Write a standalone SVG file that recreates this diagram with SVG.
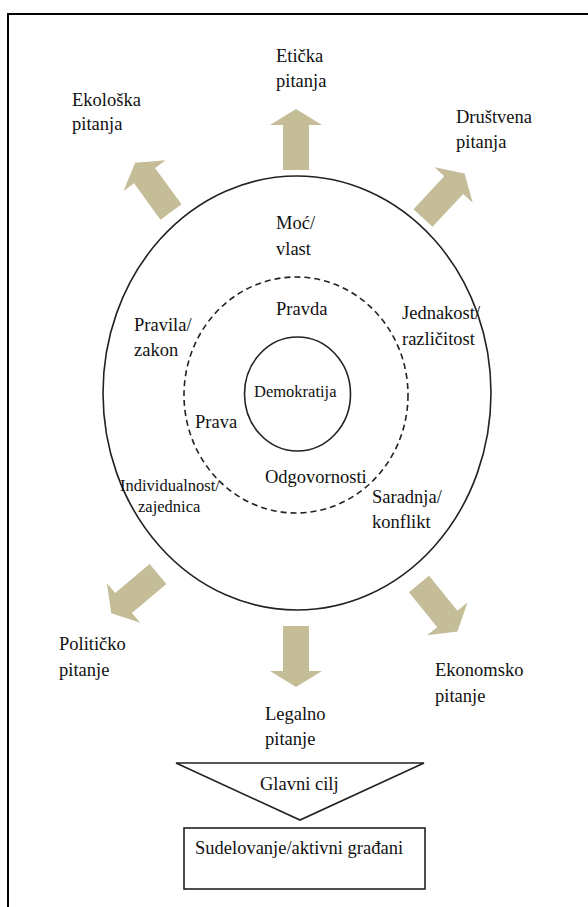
<svg xmlns="http://www.w3.org/2000/svg" width="588" height="907" viewBox="0 0 588 907">
<defs>
<style>
text{font-family:'Liberation Serif','Times New Roman','DejaVu Serif',serif;font-size:18.5px;fill:#111}
.sm{font-size:16.5px}
.arrow{fill:#C4BD97}
.line{fill:none;stroke:#222;stroke-width:1.6}
</style>
<path id="arr" d="M-13,0 L-13,-45 L-26,-45 L0,-61 L26,-45 L13,-45 L13,0 Z"/>
</defs>
<rect x="0" y="0" width="588" height="907" fill="#fff"/>
<rect id="frame" x="8" y="14" width="620" height="930" fill="none" stroke="#000" stroke-width="2"/>

<g id="connectors" class="arrow">
<use href="#arr" transform="translate(296,170)"/>
<use href="#arr" transform="translate(171,212) rotate(-36)"/>
<use href="#arr" transform="translate(423,218) rotate(43)"/>
<use href="#arr" transform="translate(158,574) rotate(-130)"/>
<use href="#arr" transform="translate(419,584) rotate(141)"/>
<use href="#arr" transform="translate(296,626) rotate(180)"/>
</g>

<g font-family="Liberation Serif, serif">
<g id="outer-circle">
<ellipse class="line" cx="297" cy="393" rx="194" ry="217"/>
<text x="276" y="229">Moć/</text>
<text x="276" y="255">vlast</text>
<text x="134" y="331">Pravila/</text>
<text x="134" y="356">zakon</text>
<text x="402" y="319">Jednakost/</text>
<text x="402" y="345">različitost</text>
<text class="sm" x="120" y="491">Individualnost/</text>
<text class="sm" x="138" y="512">zajednica</text>
<text x="372" y="503">Saradnja/</text>
<text x="372" y="528">konflikt</text>
</g>

<g id="middle-circle">
<ellipse class="line" cx="296" cy="395" rx="112" ry="118" stroke-dasharray="6 4"/>
<text x="276" y="315">Pravda</text>
<text x="195" y="428">Prava</text>
<text x="265" y="483">Odgovornosti</text>
</g>

<g id="inner-circle">
<ellipse class="line" cx="297.5" cy="394" rx="53" ry="57"/>
<text class="sm" x="254" y="397">Demokratija</text>
</g>

<g id="eticka"><text x="276" y="62">Etička</text><text x="276" y="87">pitanja</text></g>
<g id="ekoloska"><text x="72" y="106">Ekološka</text><text x="72" y="130">pitanja</text></g>
<g id="drustvena"><text x="456" y="123">Društvena</text><text x="456" y="148">pitanja</text></g>
<g id="politicko"><text x="59" y="650">Političko</text><text x="59" y="676">pitanje</text></g>
<g id="legalno"><text x="265" y="720">Legalno</text><text x="265" y="745">pitanje</text></g>
<g id="ekonomsko"><text x="435" y="676">Ekonomsko</text><text x="435" y="702">pitanje</text></g>

<g id="glavni-cilj">
<polygon class="line" points="176,763 424,763 300,820"/>
<text x="260" y="790">Glavni cilj</text>
</g>

<g id="sudelovanje">
<rect class="line" x="184" y="828" width="241" height="61"/>
<text x="195" y="854">Sudelovanje/aktivni građani</text>
</g>
</g>
</svg>
